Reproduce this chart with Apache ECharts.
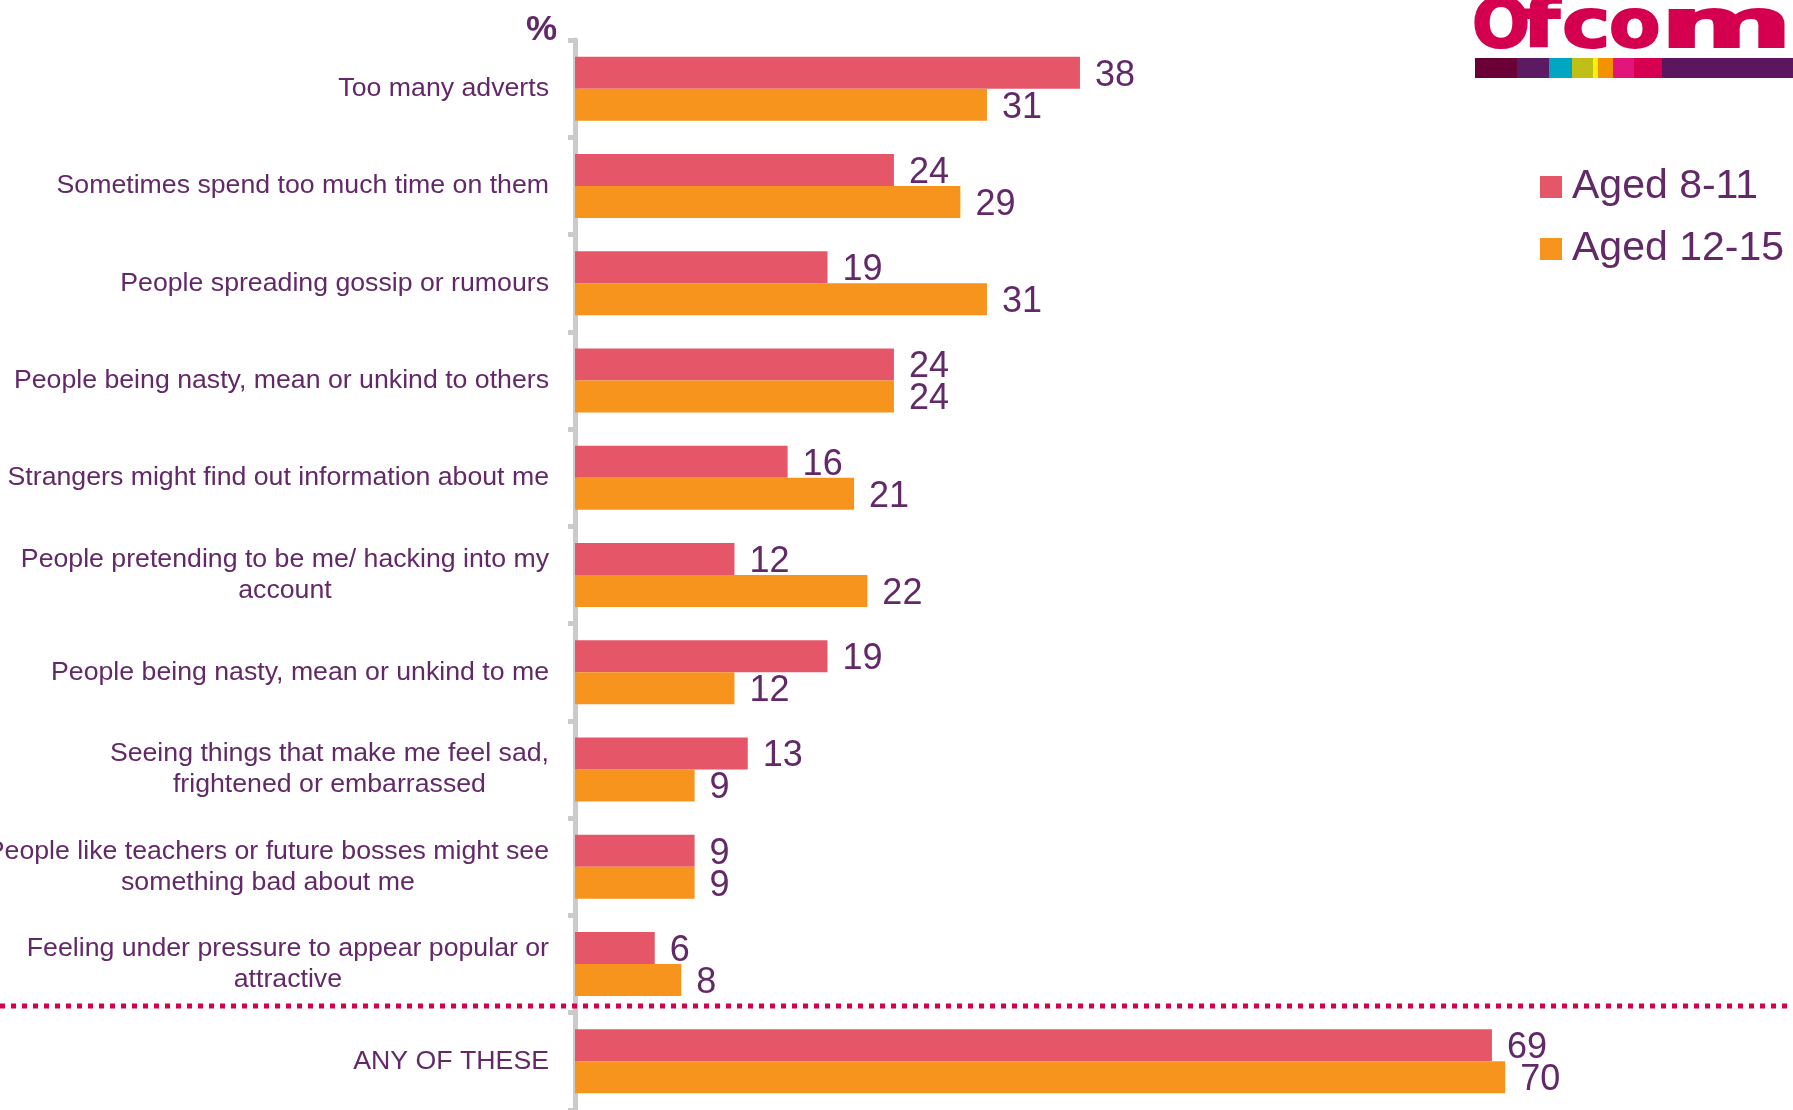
<!DOCTYPE html>
<html>
<head>
<meta charset="utf-8">
<script src="https://cdn.jsdelivr.net/npm/echarts@6/dist/echarts.min.js"></script>
<style>
html,body{margin:0;padding:0;background:#fff;}
#chart{width:1793px;height:1110px;}
</style>
</head>
<body>
<div id="chart"></div>
<script>
const categories = [
  "Too many adverts",
  "Sometimes spend too much time on them",
  "People spreading gossip or rumours",
  "People being nasty, mean or unkind to others",
  "Strangers might find out information about me",
  "People pretending to be me/ hacking into my\naccount",
  "People being nasty, mean or unkind to me",
  "Seeing things that make me feel sad,\nfrightened or embarrassed",
  "People like teachers or future bosses might see\nsomething bad about me",
  "Feeling under pressure to appear popular or\nattractive",
  "ANY OF THESE"
];
const seriesNames = ["Aged 8-11", "Aged 12-15"];
const aged8to11 = [38, 24, 19, 24, 16, 12, 19, 13, 9, 6, 69];
const aged12to15 = [31, 29, 31, 24, 21, 22, 12, 9, 9, 8, 70];

const PURPLE = '#632868';
const FONT = '"Liberation Sans", Arial, sans-serif';
const RED = '#e55768';
const ORANGE = '#f7941e';

const chart = echarts.init(document.getElementById('chart'));

const logoColors = [
  [1475, 1517, '#6b0036'],
  [1517, 1549, '#5c1a63'],
  [1549, 1572, '#00a6c1'],
  [1572, 1593, '#bfbf18'],
  [1593, 1598, '#fff200'],
  [1598, 1613, '#f39200'],
  [1613, 1634, '#e3157b'],
  [1634, 1662, '#d6004f'],
  [1662, 1793, '#5c1660']
];
const graphics = logoColors.map(c => ({
  type: 'rect', shape: {x: c[0], y: 58, width: c[1] - c[0], height: 20},
  style: {fill: c[2]}, silent: true
}));
// Ofcom wordmark (decorative), letters placed individually
const logoLetters = [
  ['O', 1472, 1.02],
  ['f', 1522, 1.3],
  ['c', 1562, 1.22],
  ['o', 1609, 1.12],
  ['m', 1660, 1.9]
];
logoLetters.forEach(l => graphics.push({
  type: 'text', x: l[1], y: 29.5, scaleX: l[2], scaleY: 1,
  style: {text: l[0], font: 'bold 67px "DejaVu Sans"', fill: '#d4004f', stroke: '#d4004f', lineWidth: 2,
          verticalAlign: 'middle', align: 'left'},
  silent: true
}));
graphics.push({
  type: 'line', shape: {x1: 0, y1: 1006, x2: 1793, y2: 1006},
  style: {stroke: '#d4004f', lineWidth: 5, lineDash: [5, 6]}, z: 100, silent: true
});

const valueLabel = {show: true, position: 'right', distance: 15, offset: [0, 3], fontSize: 36, color: PURPLE, fontFamily: FONT};

chart.setOption({
  animation: false,
  backgroundColor: '#ffffff',
  title: {
    text: '%', left: 521, top: 8,
    textStyle: {fontSize: 35, fontWeight: 'bold', color: PURPLE, fontFamily: FONT}
  },
  legend: {
    data: seriesNames,
    orient: 'vertical',
    left: 1535, top: 160,
    itemWidth: 22, itemHeight: 22, itemGap: 18,
    icon: 'rect',
    textStyle: {fontSize: 41, color: PURPLE, fontFamily: FONT, lineHeight: 44, padding: [0, 0, 0, 5]}
  },
  grid: {left: 575, right: 22, top: 40, bottom: 0, containLabel: false, outerBoundsMode: 'none'},
  xAxis: {type: 'value', min: 0, max: 90, show: false},
  yAxis: {
    type: 'category', data: categories, inverse: true, offset: 3,
    axisLine: {show: true, lineStyle: {color: '#cbcbcb', width: 5}},
    axisTick: {show: true, length: 7, lineStyle: {color: '#cbcbcb', width: 5}},
    axisLabel: {
      interval: 0, margin: 23, align: 'right',
      formatter: v => v.split('\n').map(l => '{c|' + l + '}').join('\n'),
      rich: {c: {align: 'center', fontSize: 26.7, lineHeight: 31, color: PURPLE, fontFamily: FONT}}
    },
    splitLine: {show: false}
  },
  series: [
    {name: seriesNames[0], type: 'bar', data: aged8to11, barWidth: 32, barGap: '0%', itemStyle: {color: RED}, label: valueLabel},
    {name: seriesNames[1], type: 'bar', data: aged12to15, barWidth: 32, barGap: '0%', itemStyle: {color: ORANGE}, label: valueLabel}
  ],
  graphic: graphics
});
</script>
</body>
</html>
